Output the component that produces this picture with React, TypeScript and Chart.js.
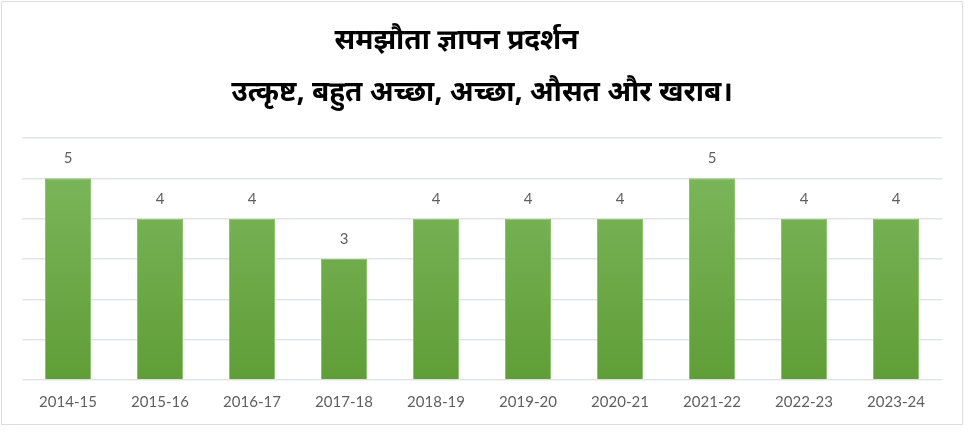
import React, { useEffect, useRef } from "react";
import { Chart, registerables } from "chart.js";

Chart.register(...registerables);

const titleLines = ["समझौता ज्ञापन प्रदर्शन       ", "उत्कृष्ट, बहुत अच्छा, अच्छा, औसत और खराब।"];
const categories = ["2014-15", "2015-16", "2016-17", "2017-18", "2018-19", "2019-20", "2020-21", "2021-22", "2022-23", "2023-24"];
const scores = [5, 4, 4, 3, 4, 4, 4, 5, 4, 4];
const yMin = 0;
const yMax = 6;

const labelFont = "Lato, 'Open Sans', 'Liberation Sans', sans-serif";
const titleFont = "'Noto Sans Devanagari', 'Lohit Devanagari', 'Noto Sans', 'FreeSans', sans-serif";

const valueLabels = {
  id: "valueLabels",
  afterDatasetsDraw(chart: any) {
    const ctx = chart.ctx;
    const meta = chart.getDatasetMeta(0);
    ctx.save();
    ctx.fillStyle = "#5f5f5f";
    ctx.font = `15px ${labelFont}`;
    ctx.textAlign = "center";
    ctx.textBaseline = "middle";
    meta.data.forEach((bar: any, i: number) => {
      ctx.fillText(String(chart.data.datasets[0].data[i]), bar.x, bar.y - 20);
    });
    ctx.restore();
  },
};

export default function App() {
  const ref = useRef<HTMLCanvasElement | null>(null);
  useEffect(() => {
    if (!ref.current) return;
    const chart = new Chart(ref.current, {
      type: "bar",
      data: {
        labels: categories,
        datasets: [
          {
            data: scores,
            backgroundColor: (c: any) => {
              const area = c.chart.chartArea;
              if (!area) return "#6aa945";
              const g = c.chart.ctx.createLinearGradient(0, area.top, 0, area.bottom);
              g.addColorStop(0, "#80b960");
              g.addColorStop(1, "#5f9e37");
              return g;
            },
            borderColor: "#8cc46a",
            borderWidth: 1,
            categoryPercentage: 1,
            barPercentage: 0.5,
          },
        ],
      },
      options: {
        animation: false,
        responsive: false,
        maintainAspectRatio: false,
        layout: { padding: { left: 20, right: 20, top: 0, bottom: 0 } },
        plugins: {
          legend: { display: false },
          tooltip: { enabled: false },
          title: {
            display: true,
            text: titleLines,
            color: "#000000",
            font: { family: titleFont, size: 28, weight: "bold", lineHeight: 1.857 },
            padding: { top: 16, bottom: 16 },
          },
        },
        scales: {
          x: {
            grid: { display: false, drawTicks: false },
            border: { display: false },
            ticks: { color: "#5f5f5f", font: { family: labelFont, size: 15 }, padding: 13 },
          },
          y: {
            min: yMin,
            max: yMax,
            ticks: { display: false, stepSize: 1 },
            border: { display: false },
            grid: { color: "#e1e4e9", lineWidth: 1.5, drawTicks: false },
          },
        },
      },
      plugins: [valueLabels],
    });
    return () => chart.destroy();
  }, []);
  return (
    <div style={{ position: "absolute", left: 0, top: 0, width: 974, height: 441, background: "#ffffff" }}>
      <div
        style={{
          position: "absolute",
          left: 1,
          top: 1,
          width: 960,
          height: 422,
          border: "1px solid #d9dce1",
          background: "#ffffff",
        }}
      >
        <canvas ref={ref} width={960} height={422} style={{ display: "block" }} />
      </div>
    </div>
  );
}
